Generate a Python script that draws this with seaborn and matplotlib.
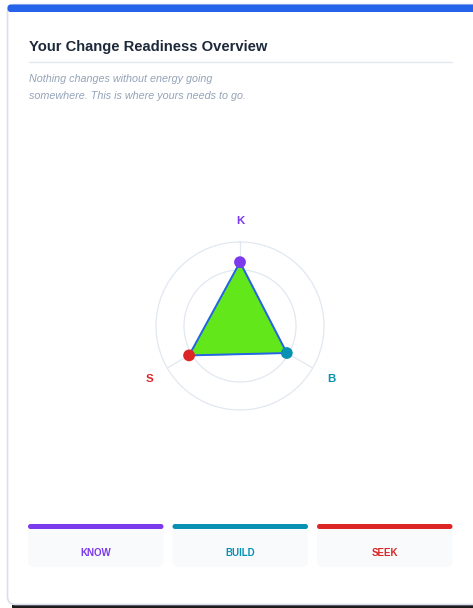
import numpy as np
import pandas as pd
import matplotlib
matplotlib.use("Agg")
import matplotlib.pyplot as plt
from matplotlib.patches import FancyBboxPatch, Rectangle
import seaborn as sns

# ---- data ----
axes_labels = ["K", "B", "S"]
axis_names = ["KNOW", "BUILD", "SEEK"]
scores = [2.28, 1.93, 2.10]
axis_colors = ["#7c3aed", "#0891b2", "#dc2626"]
ring_levels = [1, 2, 3]
title = "Your Change Readiness Overview"
subtitle = ["Nothing changes without energy going", "somewhere. This is where yours needs to go."]

sns.set_theme(style="white")
plt.rcParams["font.family"] = ["Liberation Sans", "DejaVu Sans"]

W, H = 473, 608
fig = plt.figure(figsize=(W / 100, H / 100), dpi=100)
fig.patch.set_facecolor("white")

# background axes in pixel coordinates
bg = fig.add_axes([0, 0, 1, 1])
bg.set_xlim(0, W)
bg.set_ylim(H, 0)
bg.axis("off")

PX = 72 / 100  # px -> pt

# card shadow / bottom strip
bg.add_patch(Rectangle((12, 605), W - 12, 3, color="#1c1c1c", lw=0, zorder=0))
# card
bg.add_patch(FancyBboxPatch((7.5, 4.5), W + 20, 600, boxstyle="round,pad=0,rounding_size=8",
                            fc="white", ec="#d9e0ec", lw=1.2, zorder=1))
# top blue bar
bg.add_patch(FancyBboxPatch((7.5, 4.5), W + 20, 7.5, boxstyle="round,pad=0,rounding_size=3",
                            fc="#2563eb", ec="none", zorder=2))

bg.text(29, 47, title, fontsize=14.7 * PX, fontweight="bold", color="#1e293b",
        va="center", ha="left", zorder=3)
bg.plot([29, 452], [62, 62], color="#e2e8f0", lw=1, zorder=3)
for i, line in enumerate(subtitle):
    bg.text(29, 79 + 17 * i, line, fontsize=10.7 * PX, fontstyle="italic", color="#94a3b8",
            va="center", ha="left", zorder=3)

# bottom boxes
box_x = [28, 172.5, 317]
box_w = 135.5
for x0, name, col in zip(box_x, axis_names, axis_colors):
    bg.add_patch(FancyBboxPatch((x0, 524), box_w, 43, boxstyle="round,pad=0,rounding_size=6",
                                fc="#f8fafc", ec="none", zorder=2))
    bg.add_patch(FancyBboxPatch((x0, 524), box_w, 5, boxstyle="round,pad=0,rounding_size=2.5",
                                fc=col, ec="none", zorder=3))
    bg.text(x0 + box_w / 2, 553, name, fontsize=9.8 * PX, fontweight="bold", color=col,
            ha="center", va="center", zorder=4)

# ---- radar ----
cx, cy, R = 240, 326, 84
rmax = ring_levels[-1]
ax = fig.add_axes([(cx - R) / W, (H - cy - R) / H, 2 * R / W, 2 * R / H], projection="polar")
ax.set_facecolor("none")
ax.set_theta_zero_location("N")
ax.set_theta_direction(-1)
theta = np.deg2rad([0, 120, 240])
ax.set_ylim(0, rmax)
ax.set_xticks(theta)
ax.set_xticklabels([])
ax.set_yticks(ring_levels[:-1])
ax.set_yticklabels([])
ax.grid(True, color="#e2e8f0", lw=0.9)
ax.spines["polar"].set_color("#e2e8f0")
ax.spines["polar"].set_linewidth(0.9)

df = pd.DataFrame({"theta": theta, "score": scores, "axis": axes_labels})
th_c = np.append(df["theta"].values, df["theta"].values[0])
r_c = np.append(df["score"].values, df["score"].values[0])
ax.fill(th_c, r_c, color="#62e81a", zorder=3)
ax.plot(th_c, r_c, color="#2563eb", lw=1.4, zorder=4)
sns.scatterplot(data=df, x="theta", y="score", hue="axis", palette=axis_colors,
                s=72, edgecolor="none", legend=False, ax=ax, zorder=5, clip_on=False)
ax.set_xlabel("")
ax.set_ylabel("")

for t, lab, col in zip(theta, axes_labels, axis_colors):
    ax.text(t, rmax * 105 / 84, lab, color=col, fontsize=11.5 * PX, fontweight="bold",
            ha="center", va="center", clip_on=False)

fig.savefig("out.png", dpi=100, facecolor="white")
